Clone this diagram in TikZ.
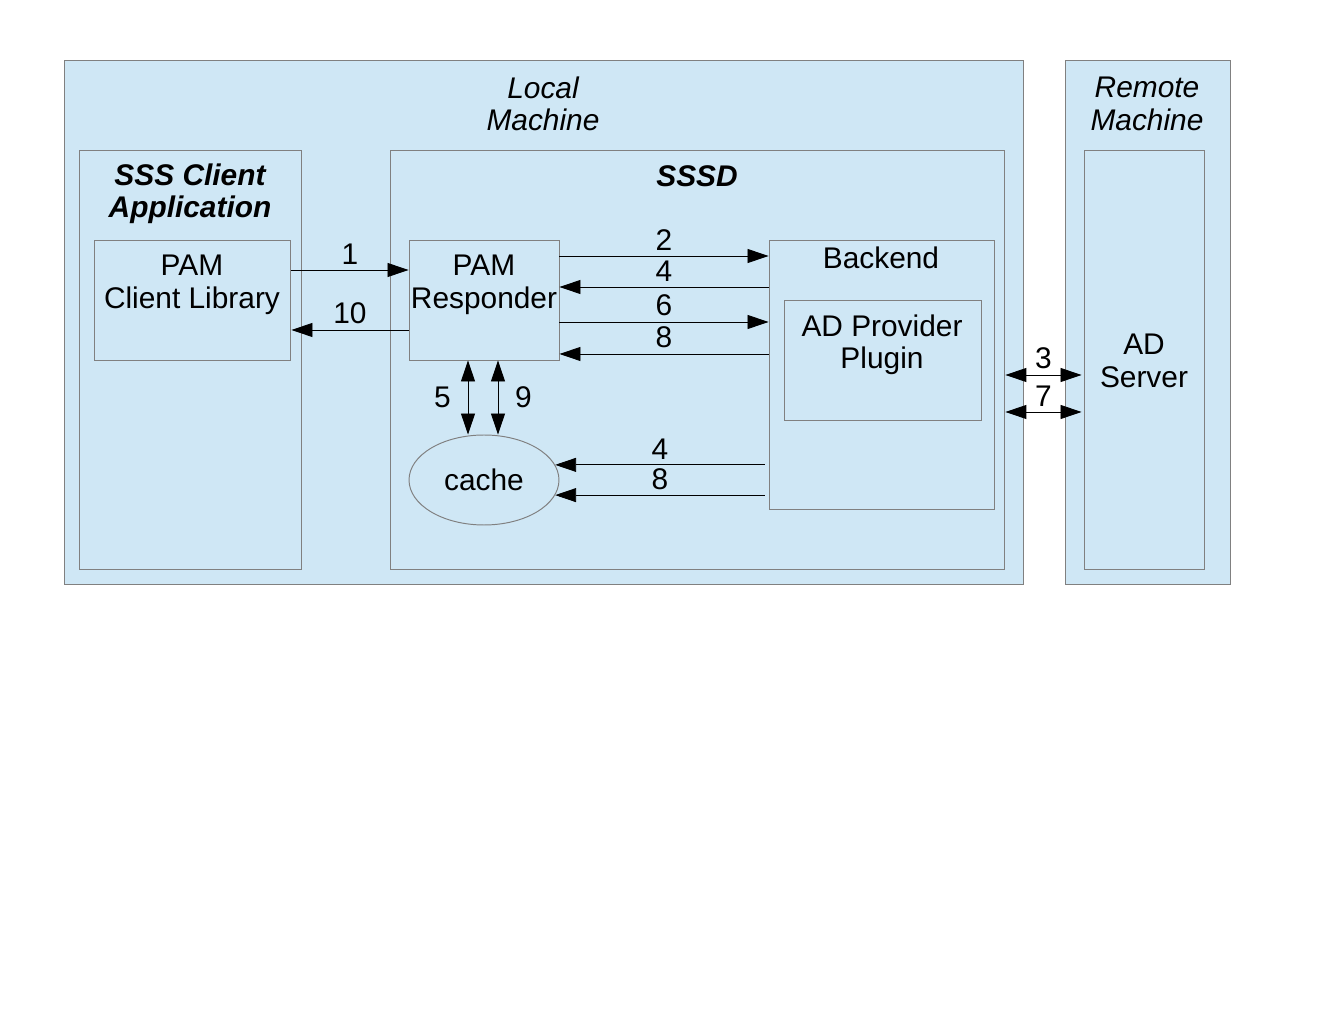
\documentclass[tikz,border=0pt]{standalone}
\usepackage{fontspec}
\setmainfont{Liberation Sans}
\usepackage{tikz}
\usetikzlibrary{arrows.meta,shapes.geometric,positioning}
\definecolor{boxblue}{HTML}{CFE7F5}
\definecolor{boxgray}{HTML}{808080}

\begin{document}
\begin{tikzpicture}[x=0.02cm,y=-0.02cm,
  box/.style={draw=boxgray,fill=boxblue,line width=0.55pt,inner sep=0pt},
  arr/.style={-{Triangle[length=0.42cm,width=0.28cm]},black,line width=0.5pt},
  dbl/.style={{Triangle[length=0.42cm,width=0.28cm]}-{Triangle[length=0.42cm,width=0.28cm]},black,line width=0.5pt},
  txt/.style={align=center,font=\fontsize{17}{18.5}\selectfont,inner sep=1pt},
  num/.style={txt,inner sep=3pt}]

 \useasboundingbox (0,0) rectangle (1320,1020);

 % machines
 \node[box,minimum width=19.2cm,minimum height=10.5cm] (local) at (544,322.5) {};
 \node[box,minimum width=3.3cm,minimum height=10.5cm] (remote) at (1147.5,322.5) {};
 \node[txt,font=\fontsize{17}{18.5}\selectfont\itshape] (localtxt) at (543,104) {Local\\Machine};
 \node[txt,font=\fontsize{17}{18.5}\selectfont\itshape] (remotetxt) at (1147,104) {Remote\\Machine};

 % client side
 \node[box,minimum width=4.46cm,minimum height=8.4cm] (client) at (190.5,360) {};
 \node[txt,font=\fontsize{17}{18.5}\selectfont\bfseries\itshape] (clienttxt) at (190,194) {SSS Client\\Application};
 \node[box,minimum width=3.94cm,minimum height=2.4cm] (clib) at (192.5,300) {};
 \node[txt] (clibtxt) at (192,285) {PAM\\Client Library};

 % sssd
 \node[box,minimum width=12.3cm,minimum height=8.4cm] (sssd) at (697.5,360) {};
 \node[txt,font=\fontsize{17}{18.5}\selectfont\bfseries\itshape] (sssdtxt) at (697,176) {SSSD};
 \node[box,minimum width=3cm,minimum height=2.4cm] (resp) at (484,300) {};
 \node[txt] (resptxt) at (484,285) {PAM\\Responder};
 \node[box,minimum width=4.5cm,minimum height=5.4cm] (backend) at (881.5,375) {};
 \node[txt] (backendtxt) at (881,258) {Backend};
 \node[box,minimum width=3.94cm,minimum height=2.4cm] (plugin) at (882.5,360) {};
 \node[txt] (plugintxt) at (882,345) {AD Provider\\Plugin};
 \node[box,ellipse,minimum width=3cm,minimum height=1.8cm,txt] (cache) at (484,480) {cache};

 % remote side
 \node[box,minimum width=2.4cm,minimum height=8.4cm] (adserver) at (1144,360) {};
 \node[txt] (adtxt) at (1144,361) {AD\\Server};

 % client <-> responder
 \draw[arr] ([yshift=0.6cm]clib.east) -- ([yshift=0.6cm]clib.east -| resp.west) node[num,above,midway] {1};
 \draw[arr] ([yshift=-0.6cm]resp.west) -- ([yshift=-0.6cm]resp.west -| clib.east) node[num,above,midway] {10};

 % responder <-> backend
 \draw[arr] ([yshift=0.88cm]resp.east) -- ([yshift=0.88cm]resp.east -| backend.west) node[num,above,midway] {2};
 \draw[arr] ([yshift=0.26cm]resp.east -| backend.west) -- ([yshift=0.26cm]resp.east) node[num,above,midway] {4};
 \draw[arr] ([yshift=-0.44cm]resp.east) -- ([yshift=-0.44cm]resp.east -| backend.west) node[num,above,midway] {6};
 \draw[arr] ([yshift=-1.08cm]resp.east -| backend.west) -- ([yshift=-1.08cm]resp.east) node[num,above,midway] {8};

 % responder <-> cache
 \draw[dbl] ([xshift=-0.32cm]resp.south) -- ([xshift=-0.32cm]resp.south |- cache.north) node[txt,left=0.3cm,midway] {5};
 \draw[dbl] ([xshift=0.28cm]resp.south) -- ([xshift=0.28cm]resp.south |- cache.north) node[txt,right=0.3cm,midway] {9};

 % backend -> cache
 \draw[arr] ([xshift=-0.08cm]backend.west |- cache.12) -- (cache.12) node[num,above,midway] {4};
 \draw[arr] ([xshift=-0.08cm]backend.west |- cache.-12) -- (cache.-12) node[num,above,midway] {8};

 % sssd <-> ad server
 \draw[dbl] ([yshift=-0.3cm]sssd.east) -- ([yshift=-0.3cm,xshift=-0.04cm]sssd.east -| adserver.west) node[num,above,midway] {3};
 \draw[dbl] ([yshift=-1.04cm]sssd.east) -- ([yshift=-1.04cm,xshift=-0.04cm]sssd.east -| adserver.west) node[num,above,midway] {7};

\end{tikzpicture}
\end{document}
